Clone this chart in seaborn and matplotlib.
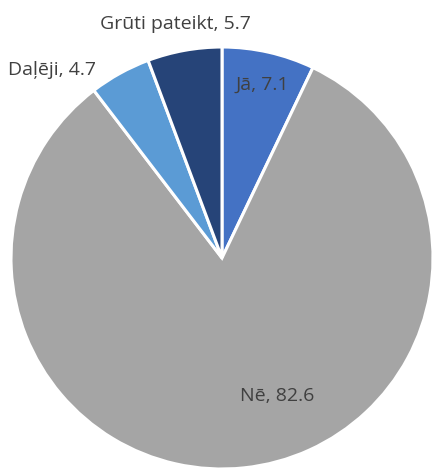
import matplotlib
matplotlib.use("Agg")
import matplotlib.pyplot as plt
import seaborn as sns

# Survey answers and their shares (%)
categories = ["Jā", "Nē", "Daļēji", "Grūti pateikt"]
values = [7.1, 82.6, 4.7, 5.7]
colors = ["#4472C4", "#A5A5A5", "#5B9BD5", "#264478"]

# Label anchor points in figure-fraction coordinates
label_pos = [(0.605, 0.819), (0.638, 0.157), (0.120, 0.851), (0.404, 0.949)]

sns.set_theme(style="white")
plt.rcParams["font.family"] = ["Open Sans", "DejaVu Sans"]

W, H = 434, 470
fig = plt.figure(figsize=(W / 100, H / 100), dpi=100)
ax = fig.add_axes([0, 0, 1, 1])

ax.pie(
    values,
    colors=colors,
    startangle=90,
    counterclock=False,
    center=(222, 212),
    radius=211,
    wedgeprops=dict(edgecolor="white", linewidth=2.2),
    frame=True,
)
ax.set_xlim(0, W)
ax.set_ylim(0, H)
ax.set_aspect("equal")
ax.axis("off")

for cat, val, (x, y) in zip(categories, values, label_pos):
    fig.text(x, y, f"{cat}, {val}", ha="center", va="center",
             fontsize=14, color="#404040")

fig.savefig("out.png", dpi=100)
